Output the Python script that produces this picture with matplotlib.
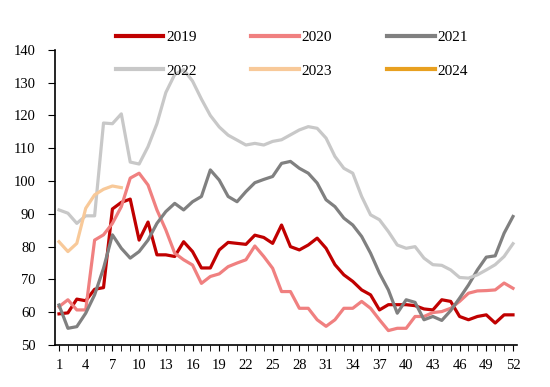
import numpy as np
import matplotlib
matplotlib.use("Agg")
import matplotlib.pyplot as plt

plt.rcParams['font.family'] = ['Liberation Serif', 'DejaVu Serif']

weeks = list(range(1, 53))

y2019 = [59.5, 59.8, 64, 63.5, 67, 67.5, 91.5, 93.5, 94.5, 82, 87.5, 77.5, 77.5, 77,
         81.5, 78.5, 73.5, 73.5, 79, 81.3, 81, 80.7, 83.5, 82.8, 81, 86.6, 80, 79,
         80.5, 82.6, 79.5, 74.5, 71.4, 69.4, 66.8, 65.3, 60.7, 62.3, 62.3, 62.3, 62,
         61, 60.7, 63.8, 63.3, 58.7, 57.7, 58.7, 59.2, 56.7, 59.2, 59.2]
y2020 = [61.7, 63.8, 60.7, 60.7, 82, 83.6, 87.1, 92.2, 100.9, 102.4, 98.8, 91.2, 85.1,
         78, 76, 74.4, 68.8, 70.9, 71.7, 73.9, 75, 76, 80.2, 77, 73.4, 66.3, 66.3,
         61.2, 61.2, 57.7, 55.7, 57.7, 61.2, 61.2, 63.3, 61.2, 57.7, 54.4, 55.1, 55.1,
         58.7, 58.7, 59.9, 60.2, 61.2, 63.3, 65.8, 66.5, 66.6, 66.8, 68.9, 67.3]
y2021 = [62.2, 55.1, 55.6, 59.7, 65.3, 73.4, 83.6, 79.5, 76.5, 78.5, 82, 87.1, 90.7,
         93.2, 91.2, 93.7, 95.3, 103.4, 100.3, 95.3, 93.7, 96.8, 99.5, 100.5, 101.4,
         105.4, 106, 103.9, 102.4, 99.4, 94.3, 92.2, 88.7, 86.6, 83.1, 78, 71.9, 66.8,
         59.7, 63.8, 63, 57.7, 58.7, 57.5, 60.5, 64.3, 68.3, 72.9, 76.8, 77.2, 84.1, 89.2]
y2022 = [91.2, 90.2, 87.1, 89.4, 89.4, 117.7, 117.5, 120.5, 105.8, 105.2, 110.5, 117.5,
         127, 132.5, 134, 130.5, 125, 120, 116.5, 114, 112.5, 111, 111.5, 111, 112.1,
         112.6, 114.1, 115.6, 116.6, 116.1, 113.1, 107.5, 103.9, 102.4, 95.3, 89.7,
         88.2, 84.6, 80.5, 79.5, 80, 76.5, 74.5, 74.3, 72.9, 70.6, 70.4, 71.4, 72.9,
         74.5, 77, 80.9]
y2023 = [81.5, 78.5, 81, 91.7, 95.8, 97.5, 98.5, 98]
y2024 = []

series = [
    ("2019", y2019, "#C00000"),
    ("2020", y2020, "#F08080"),
    ("2021", y2021, "#808080"),
    ("2022", y2022, "#C8C8C8"),
    ("2023", y2023, "#F8C999"),
    ("2024", y2024, "#E8A020"),
]

fig = plt.figure(figsize=(5.5, 3.87), dpi=100)
ax = fig.add_axes([0.1, 0.1085, 0.84, 0.7625])

handles = {}
for name, vals, col in series:
    ln, = ax.plot(weeks[:len(vals)], vals, color=col, lw=2.3, label=name)
    handles[name] = ln

ax.set_xlim(0.55, 52.45)
ax.set_ylim(50, 140)
ax.set_yticks(range(50, 141, 10))
ax.set_xticks(weeks, minor=True)
ax.set_xticks(weeks[::3])
ax.tick_params(axis='both', which='both', direction='out', labelsize=10.5, color='black')
ax.tick_params(axis='x', which='both', length=4, pad=6)
ax.tick_params(axis='y', length=5, pad=9)
for s in ['top', 'right']:
    ax.spines[s].set_visible(False)
for s in ['left', 'bottom']:
    ax.spines[s].set_linewidth(1.2)

# legend laid out row-wise: 2019 2020 2021 / 2022 2023 2024
order = ["2019", "2022", "2020", "2023", "2021", "2024"]
leg = fig.legend([handles[k] for k in order], order, ncol=3, frameon=False,
                 loc='upper left', bbox_to_anchor=(0.185, 0.957), fontsize=11,
                 handlelength=3.1, handletextpad=0.2, columnspacing=3.6,
                 labelspacing=1.3)
for h in leg.legend_handles:
    h.set_linewidth(3)

fig.savefig("out.png", dpi=100)
